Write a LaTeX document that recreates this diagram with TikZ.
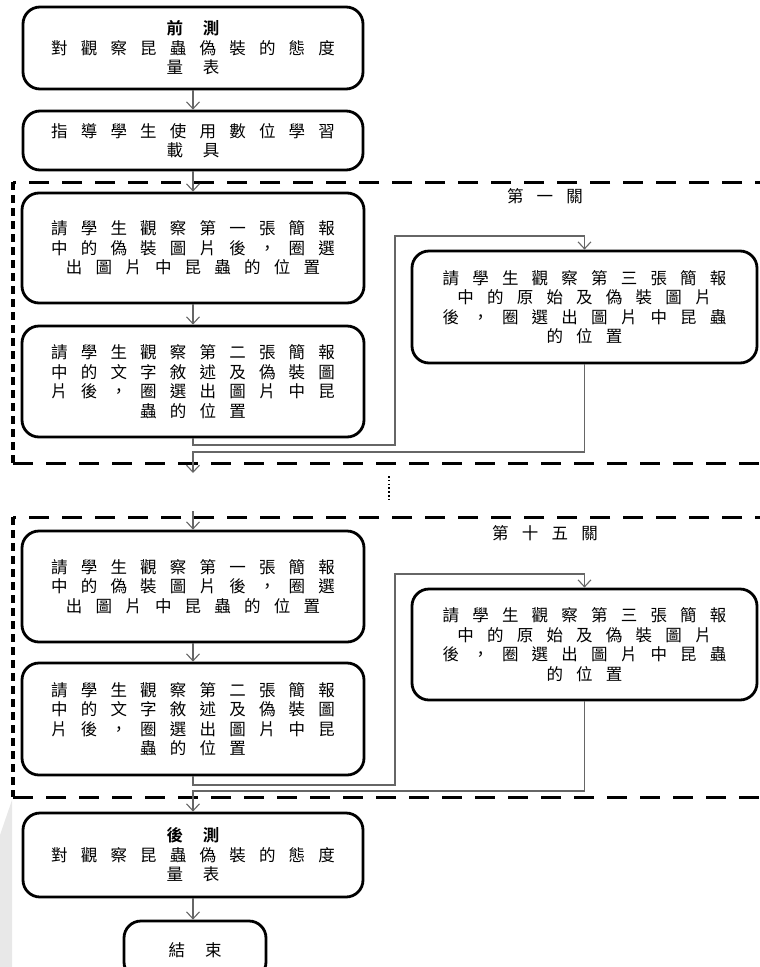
\documentclass[tikz,border=0pt]{standalone}
\usepackage{fontspec}
\newfontfamily\cjk[LetterSpace=80,BoldFont={Noto Sans CJK TC Bold}]{Noto Sans CJK TC}
\usetikzlibrary{arrows.meta}
\begin{document}
\begin{tikzpicture}[x=1pt,y=-1pt,
  box/.style={draw=black, line width=2.8pt, rounded corners=17pt, align=center,
    font=\cjk\fontsize{16.5}{19.5}\selectfont, inner sep=0pt},
  conn/.style={draw=black!60, line width=1.1pt},
  arr/.style={conn, -{Straight Barb[length=7pt,width=13pt]}},
  hdash/.style={line width=3pt, dash pattern=on 20pt off 13pt},
  vdash/.style={line width=3.5pt, dash pattern=on 8pt off 5pt},
  lbl/.style={font=\cjk\fontsize{16.5}{19.5}\selectfont, inner sep=0pt}]
\useasboundingbox (0,0) rectangle (760,967);
% faint watermark wedge
\fill[black!9] (12,800) -- (12,967) -- (0,967) -- (0,835) -- cycle;

% boxes
\node[box, minimum width=340pt, minimum height=82pt] (b1) at (193,48)
  {{\bfseries 前\hspace{20pt}測}\\對觀察昆蟲偽裝的態度\\量\hspace{20pt}表};
\node[box, minimum width=340pt, minimum height=59pt] (b2) at (193,140.5)
  {指導學生使用數位學習\\載\hspace{20pt}具};
\node[box, minimum width=342pt, minimum height=110pt] (b3) at (193,248)
  {請學生觀察第一張簡報\\中的偽裝圖片後，圈選\\出圖片中昆蟲的位置};
\node[box, minimum width=342pt, minimum height=111pt] (b4) at (193,381.5)
  {請學生觀察第二張簡報\\中的文字敘述及偽裝圖\\片後，圈選出圖片中昆\\蟲的位置};
\node[box, minimum width=345pt, minimum height=112pt] (b5) at (584.5,307)
  {請學生觀察第三張簡報\\中的原始及偽裝圖片\\後，圈選出圖片中昆蟲\\的位置};
\node[box, minimum width=342pt, minimum height=111pt] (b6) at (193,586.5)
  {請學生觀察第一張簡報\\中的偽裝圖片後，圈選\\出圖片中昆蟲的位置};
\node[box, minimum width=342pt, minimum height=112pt] (b7) at (193,719)
  {請學生觀察第二張簡報\\中的文字敘述及偽裝圖\\片後，圈選出圖片中昆\\蟲的位置};
\node[box, minimum width=345pt, minimum height=111pt] (b8) at (584.5,644.5)
  {請學生觀察第三張簡報\\中的原始及偽裝圖片\\後，圈選出圖片中昆蟲\\的位置};
\node[box, minimum width=340pt, minimum height=84pt] (b9) at (193,855)
  {{\bfseries 後\hspace{20pt}測}\\對觀察昆蟲偽裝的態度\\量\hspace{20pt}表};
\node[box, minimum width=142pt, minimum height=58pt] (b10) at (195,950)
  {結\hspace{20pt}束};

% section labels
\node[lbl] (l1) at (545,196) {第一關};
\node[lbl] (l2) at (545,533) {第十五關};

% dashed frames
\draw[hdash] (775,182) -- (13,182);
\draw[vdash] (13,182) -- (13,463);
\draw[hdash] (13,463) -- (775,463);
\draw[hdash] (775,517) -- (13,517);
\draw[vdash] (13,517) -- (13,797);
\draw[hdash] (13,797) -- (775,797);

% coordinates
\coordinate (u1) at (395,445);
\coordinate (v1) at (395,236);
\coordinate (w1) at (193,452);
\coordinate (e1) at (193,473);
\coordinate (d1) at (389,476);
\coordinate (d2) at (389,502);
\coordinate (s2) at (193,511);
\coordinate (u2) at (395,785);
\coordinate (v2) at (395,574);
\coordinate (w2) at (193,791);

% connectors
\draw[arr] (b1.south) -- (b2.north);
\draw[arr] (b2.south) -- (b3.north);
\draw[arr] (b3.south) -- (b4.north);
\draw[arr] (b4.south) |- (u1) -- (v1) -| (b5.north);
\draw[arr] (b5.south) |- (w1) -- (e1);
\draw[line width=1.6pt, dash pattern=on 1.6pt off 2.2pt] (d1) -- (d2);
\draw[arr] (s2) -- (b6.north);
\draw[arr] (b6.south) -- (b7.north);
\draw[arr] (b7.south) |- (u2) -- (v2) -| (b8.north);
\draw[arr] (b8.south) |- (w2) -- (b9.north);
\draw[arr] (b9.south) -- (b9.south |- b10.north);
\end{tikzpicture}
\end{document}
